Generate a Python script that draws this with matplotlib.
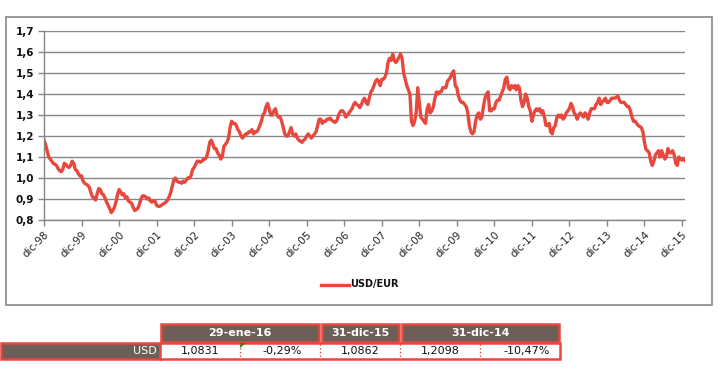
import matplotlib
matplotlib.use("Agg")
import matplotlib.pyplot as plt
from matplotlib.patches import Rectangle, Polygon
from matplotlib.lines import Line2D
import numpy as np

# ---------------- data (semi-monthly readings, USD per EUR) ----------------
start_year = 1999.0          # 31-dic-98
steps_per_year = 24
y1999 = [1.18, 1.16, 1.13, 1.10, 1.09, 1.08, 1.07, 1.065, 1.06, 1.045, 1.035, 1.03, 1.04, 1.07, 1.065, 1.055, 1.05, 1.06, 1.08, 1.07, 1.04, 1.035, 1.02, 1.01]
y2000 = [1.01, 0.985, 0.975, 0.97, 0.965, 0.955, 0.93, 0.91, 0.905, 0.895, 0.925, 0.95, 0.945, 0.925, 0.92, 0.905, 0.885, 0.87, 0.855, 0.835, 0.845, 0.86, 0.885, 0.92]
y2001 = [0.945, 0.935, 0.92, 0.925, 0.905, 0.91, 0.89, 0.885, 0.88, 0.86, 0.845, 0.85, 0.855, 0.875, 0.90, 0.915, 0.915, 0.91, 0.90, 0.905, 0.89, 0.885, 0.89, 0.89]
y2002 = [0.87, 0.865, 0.865, 0.87, 0.875, 0.88, 0.885, 0.895, 0.91, 0.93, 0.96, 0.99, 1.00, 0.985, 0.98, 0.98, 0.975, 0.985, 0.98, 0.99, 1.00, 1.00, 1.01, 1.04]
y2003 = [1.05, 1.065, 1.08, 1.08, 1.075, 1.08, 1.09, 1.09, 1.10, 1.13, 1.17, 1.18, 1.16, 1.14, 1.14, 1.12, 1.11, 1.09, 1.10, 1.15, 1.16, 1.17, 1.19, 1.24]
y2004 = [1.27, 1.26, 1.26, 1.25, 1.23, 1.22, 1.20, 1.19, 1.20, 1.21, 1.21, 1.22, 1.22, 1.23, 1.21, 1.22, 1.22, 1.23, 1.25, 1.27, 1.30, 1.31, 1.34, 1.355]
y2005 = [1.33, 1.30, 1.30, 1.32, 1.33, 1.30, 1.29, 1.29, 1.27, 1.24, 1.21, 1.20, 1.20, 1.22, 1.24, 1.21, 1.20, 1.21, 1.19, 1.18, 1.175, 1.17, 1.18, 1.185]
y2006 = [1.20, 1.21, 1.20, 1.19, 1.20, 1.21, 1.22, 1.25, 1.28, 1.28, 1.26, 1.27, 1.27, 1.28, 1.28, 1.285, 1.275, 1.27, 1.265, 1.27, 1.29, 1.31, 1.32, 1.32]
y2007 = [1.31, 1.29, 1.30, 1.31, 1.32, 1.33, 1.35, 1.36, 1.35, 1.345, 1.335, 1.35, 1.37, 1.38, 1.36, 1.35, 1.38, 1.41, 1.42, 1.44, 1.46, 1.47, 1.46, 1.44]
y2008 = [1.47, 1.47, 1.48, 1.50, 1.55, 1.57, 1.56, 1.59, 1.56, 1.55, 1.56, 1.575, 1.59, 1.57, 1.50, 1.47, 1.44, 1.42, 1.40, 1.27, 1.25, 1.27, 1.31, 1.43]
y2009 = [1.36, 1.29, 1.28, 1.27, 1.26, 1.33, 1.35, 1.31, 1.32, 1.34, 1.38, 1.41, 1.40, 1.41, 1.41, 1.43, 1.43, 1.43, 1.46, 1.47, 1.48, 1.50, 1.51, 1.44]
y2010 = [1.43, 1.39, 1.37, 1.36, 1.36, 1.35, 1.34, 1.31, 1.25, 1.22, 1.21, 1.22, 1.27, 1.30, 1.31, 1.28, 1.29, 1.34, 1.38, 1.40, 1.41, 1.32, 1.32, 1.33]
y2011 = [1.33, 1.36, 1.37, 1.37, 1.39, 1.41, 1.43, 1.47, 1.48, 1.43, 1.42, 1.44, 1.43, 1.44, 1.42, 1.44, 1.43, 1.37, 1.34, 1.36, 1.40, 1.38, 1.34, 1.32]
y2012 = [1.27, 1.30, 1.32, 1.33, 1.32, 1.33, 1.31, 1.32, 1.29, 1.25, 1.25, 1.26, 1.22, 1.21, 1.24, 1.25, 1.29, 1.30, 1.29, 1.30, 1.28, 1.29, 1.31, 1.32]
y2013 = [1.33, 1.355, 1.34, 1.31, 1.30, 1.28, 1.30, 1.31, 1.30, 1.29, 1.31, 1.30, 1.28, 1.31, 1.33, 1.33, 1.33, 1.35, 1.36, 1.38, 1.35, 1.36, 1.37, 1.38]
y2014 = [1.36, 1.36, 1.37, 1.38, 1.38, 1.38, 1.385, 1.39, 1.37, 1.36, 1.36, 1.36, 1.35, 1.34, 1.34, 1.32, 1.29, 1.27, 1.27, 1.26, 1.25, 1.245, 1.24, 1.22]
y2015 = [1.17, 1.135, 1.13, 1.12, 1.08, 1.06, 1.08, 1.11, 1.12, 1.13, 1.10, 1.13, 1.11, 1.09, 1.10, 1.14, 1.12, 1.12, 1.13, 1.11, 1.07, 1.06, 1.10, 1.09]
y2016 = [1.085, 1.09, 1.083]

series_name = "USD/EUR"
xtick_labels = ["dic-98", "dic-99", "dic-00", "dic-01", "dic-02", "dic-03", "dic-04", "dic-05",
                "dic-06", "dic-07", "dic-08", "dic-09", "dic-10", "dic-11", "dic-12", "dic-13",
                "dic-14", "dic-15"]
yticks = [0.8, 0.9, 1.0, 1.1, 1.2, 1.3, 1.4, 1.5, 1.6, 1.7]

table_headers = ["29-ene-16", "31-dic-15", "31-dic-14"]
row_label = "USD"
row_values = ["1,0831", "-0,29%", "1,0862", "1,2098", "-10,47%"]

values = (y1999 + y2000 + y2001 + y2002 + y2003 + y2004 + y2005 + y2006 + y2007 +
          y2008 + y2009 + y2010 + y2011 + y2012 + y2013 + y2014 + y2015 + y2016)
xs = start_year + np.arange(len(values)) / steps_per_year

# ---------------- figure ----------------
W, H = 722, 380
fig = plt.figure(figsize=(W / 100, H / 100), dpi=100)
fig.patch.set_facecolor("white")

def fx(px):
    return px / W

def fy(py):
    return 1 - py / H

RED = "#E8473E"
GRID = "#868686"
BROWN = "#6E5E58"

# outer chart border
fig.patches.append(Rectangle((fx(6), fy(305)), fx(712) - fx(6), fy(17) - fy(305),
                             transform=fig.transFigure, fill=False, edgecolor="#888888", lw=1.2))

ax = fig.add_axes([fx(44), fy(220), fx(685) - fx(44), fy(31) - fy(220)])
ax.plot(xs, values, color=RED, lw=2.4, solid_joinstyle="round")
ax.set_xlim(1999.0, 2016.08)
ax.set_ylim(0.8, 1.7)
ax.set_yticks(yticks)
ax.set_yticklabels([("%.1f" % v).replace(".", ",") for v in yticks],
                   fontsize=7.5, fontweight="bold", color="#111111")
ax.set_xticks(np.arange(len(xtick_labels)) + 1999)
ax.set_xticklabels(xtick_labels, rotation=45, ha="right", va="top",
                   rotation_mode="anchor", fontsize=7.5, color="#222222")
ax.grid(axis="y", color=GRID, lw=1.0)
ax.set_axisbelow(True)
for s in ["top", "right"]:
    ax.spines[s].set_visible(False)
for s in ["left", "bottom"]:
    ax.spines[s].set_color(GRID)
    ax.spines[s].set_linewidth(1.0)
ax.tick_params(axis="both", color=GRID, length=4, width=1.0)
ax.tick_params(axis="x", pad=3)
ax.tick_params(axis="y", pad=3)

# legend
fig.lines.append(Line2D([fx(321), fx(349)], [fy(284.5), fy(284.5)], color=RED, lw=2.4,
                        transform=fig.transFigure))
fig.text(fx(350), fy(284.5), series_name, fontsize=7, fontweight="bold", va="center", ha="left",
         color="#111111")

# ---------------- table ----------------
def rect(x0, y0, x1, y1, fc="none", ec="none", lw=0, ls="-"):
    fig.patches.append(Rectangle((fx(x0), fy(y1)), fx(x1) - fx(x0), fy(y0) - fy(y1),
                                 transform=fig.transFigure, facecolor=fc, edgecolor=ec,
                                 lw=lw, linestyle=ls))

def vline(x, y0, y1, ls=":", lw=1.0):
    fig.lines.append(Line2D([fx(x), fx(x)], [fy(y0), fy(y1)], color=RED, lw=lw, linestyle=ls,
                            transform=fig.transFigure))

header_spans = [(160, 320), (321, 400), (401, 560)]
for (a, b), t in zip(header_spans, table_headers):
    rect(a + 1, 324, b - 1, 342, fc=BROWN, ec=RED, lw=1.8)
    fig.text(fx((a + b) / 2), fy(333), t, color="white", fontsize=8, fontweight="bold",
             ha="center", va="center")

rect(1, 343, 160, 359, fc=BROWN, ec=RED, lw=1.8)
fig.text(fx(157), fy(351), row_label, color="white", fontsize=8, ha="right", va="center")
rect(160, 343, 560, 359, fc="white", ec=RED, lw=1.8)
for xd in [240, 320, 400, 480]:
    vline(xd, 344, 358)

# green indicator triangle
fig.patches.append(Polygon([(fx(240), fy(343)), (fx(246), fy(343)), (fx(240), fy(348))],
                           closed=True, transform=fig.transFigure, facecolor="#1E8A1E",
                           edgecolor="none"))

value_pos = [200, 282, 360, 440, 527]
for xp, t in zip(value_pos, row_values):
    fig.text(fx(xp), fy(351), t, color="#111111", fontsize=8, ha="center", va="center")

fig.savefig("out.png", dpi=100, facecolor="white")
